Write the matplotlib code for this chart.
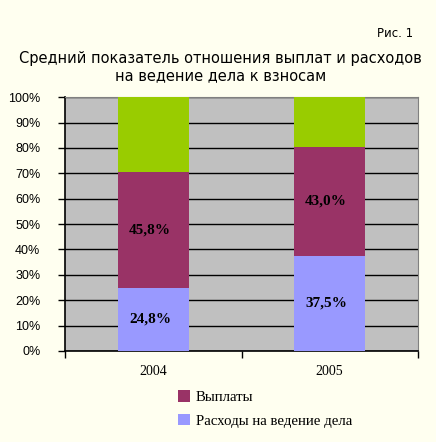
import numpy as np
import matplotlib
matplotlib.use("Agg")
from matplotlib import pyplot as plt
from matplotlib.ticker import PercentFormatter

# данные
years = ["2004", "2005"]
rashody = [24.8, 37.5]      # Расходы на ведение дела
vyplaty = [45.8, 43.0]      # Выплаты
ostatok = [29.4, 19.5]      # остаток до 100%
labels_series = ["Выплаты", "Расходы на ведение дела"]

bg = "#FFFFF0"
c_rash = "#9999FF"
c_vypl = "#993366"
c_ost = "#99CC00"

fig = plt.figure(figsize=(4.36, 4.42), dpi=100, facecolor=bg)
ax = fig.add_axes([0.150, 0.206, 0.808, 0.574])
ax.set_facecolor("#C0C0C0")

x = np.arange(len(years))
w = 0.40
b1 = ax.bar(x, rashody, w, color=c_rash, zorder=3)
b2 = ax.bar(x, vyplaty, w, bottom=rashody, color=c_vypl, zorder=3)
bottom3 = np.array(rashody) + np.array(vyplaty)
ax.bar(x, ostatok, w, bottom=bottom3, color=c_ost, zorder=3)

# подписи значений
for i in range(len(years)):
    ax.text(x[i] - 0.02, rashody[i] / 2, f"{rashody[i]:.1f}%".replace(".", ","),
            ha="center", va="center", fontsize=11, fontweight="bold",
            family="Liberation Serif", zorder=4)
    ax.text(x[i] - 0.02, rashody[i] + vyplaty[i] / 2, f"{vyplaty[i]:.1f}%".replace(".", ","),
            ha="center", va="center", fontsize=11, fontweight="bold",
            family="Liberation Serif", zorder=4)

ax.set_xlim(-0.5, 1.5)
ax.set_ylim(0, 100)
ax.set_yticks(np.arange(0, 101, 10))
ax.yaxis.set_major_formatter(PercentFormatter(decimals=0))
ax.yaxis.grid(True, color="black", linewidth=1.0, zorder=1)
ax.set_axisbelow(True)

ax.set_xticks(x)
ax.set_xticklabels(years, family="Liberation Serif", fontsize=10)
ax.set_xticks([-0.5, 0.5, 1.5], minor=True)
ax.tick_params(axis="x", which="major", length=0, pad=10)
ax.tick_params(axis="x", which="minor", length=5, width=1, direction="out")
ax.tick_params(axis="y", length=5, width=1, direction="out", labelsize=9, pad=13)
for lab in ax.get_yticklabels():
    lab.set_family("Liberation Sans")

for s in ["top", "right"]:
    ax.spines[s].set_color("#808080")
for s in ["left", "bottom"]:
    ax.spines[s].set_color("black")
    ax.spines[s].set_linewidth(1.2)

fig.text(0.947, 0.925, "Рис. 1", ha="right", va="center", fontsize=8.5, family="DejaVu Sans")
fig.text(0.505, 0.868, "Средний показатель отношения выплат и расходов",
         ha="center", va="center", fontsize=10.5, family="DejaVu Sans")
fig.text(0.505, 0.828, "на ведение дела к взносам",
         ha="center", va="center", fontsize=10.5, family="DejaVu Sans")

leg = fig.legend([b2, b1], labels_series, loc="upper left",
                 bbox_to_anchor=(0.395, 0.130), frameon=False,
                 prop={"family": "Liberation Serif", "size": 10.7},
                 handlelength=0.8, handleheight=0.8, handletextpad=0.4,
                 labelspacing=0.65, borderaxespad=0)

fig.savefig("out.png", dpi=100, facecolor=bg)
